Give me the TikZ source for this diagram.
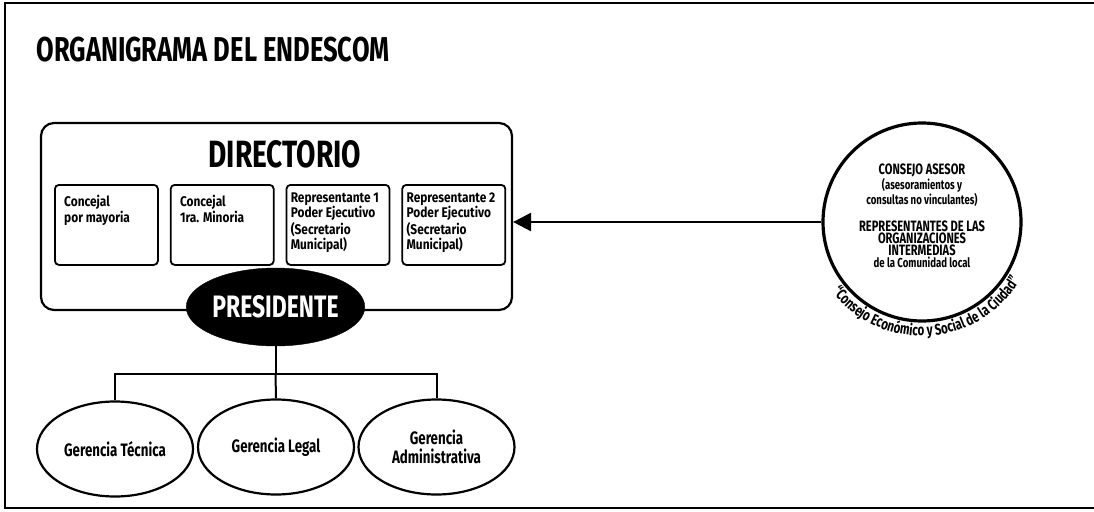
\documentclass[tikz,border=0pt]{standalone}
\usepackage{fontspec}
\setmainfont{Fira Sans}
\newfontfamily\cond{Fira Sans}[FakeStretch=0.74]
\newfontfamily\semicond{Fira Sans}[FakeStretch=0.85]
\usepackage{tikz}
\usetikzlibrary{positioning,arrows.meta,shapes.geometric,decorations.text}

\begin{document}
\begin{tikzpicture}[
  x=1pt, y=1pt,
  font=\cond\bfseries,
  node distance=11pt,
  member/.style={
    rectangle, rounded corners=4pt, draw=black, line width=1.8pt,
    minimum width=103pt, minimum height=80pt, inner sep=0pt
  },
  memtxt/.style={
    anchor=north west, align=left, inner sep=0pt,
    font=\semicond\bfseries\fontsize{14}{15}\selectfont
  },
  gerencia/.style={
    ellipse, draw=black, line width=2.2pt, align=center,
    minimum width=156pt, minimum height=95pt, inner sep=0pt,
    font=\cond\bfseries\fontsize{18}{19}\selectfont
  },
  arr/.style={-{Triangle[length=18pt,width=18pt]}, line width=2.6pt},
  tree/.style={line width=2pt}
]

\useasboundingbox (0,0) rectangle (1094,-511);
% sheet frame (open on the right)
\draw[line width=2pt] (1094,-3) -- (5,-3) -- (5,-508) -- (1094,-508);

\node[anchor=west, font=\cond\bfseries\fontsize{34.5}{35}\selectfont] (title) at (33,-50) {ORGANIGRAMA DEL ENDESCOM};

% directorio
\node[rectangle, rounded corners=13pt, draw=black, line width=2.2pt,
      minimum width=471pt, minimum height=187pt] (dir) at (276.5,-216.5) {};
\node[font=\cond\bfseries\fontsize{38}{38}\selectfont] (dirlbl) at (285,-154) {DIRECTORIO};

\node[member, anchor=north west] (m1) at (54,-184) {};
\node[member, right=of m1] (m2) {};
\node[member, right=of m2] (m3) {};
\node[member, right=of m3] (m4) {};

\node[memtxt, font=\semicond\bfseries\fontsize{14}{16}\selectfont] (t1) at ([shift={(10pt,-11pt)}]m1.north west) {Concejal\\por mayoria};
\node[memtxt, font=\semicond\bfseries\fontsize{14}{16}\selectfont] (t2) at ([shift={(10pt,-11pt)}]m2.north west) {Concejal\\1ra. Minoria};
\node[memtxt] (t3) at ([shift={(5pt,-9pt)}]m3.north west) {Representante 1\\Poder Ejecutivo\\(Secretario\\Municipal)};
\node[memtxt] (t4) at ([shift={(5pt,-9pt)}]m4.north west) {Representante 2\\Poder Ejecutivo\\(Secretario\\Municipal)};

\node[ellipse, fill=black, draw=black, minimum width=165pt, minimum height=78pt,
      inner sep=0pt, text=white, font=\cond\bfseries\fontsize{31}{31}\selectfont] (pres) at (275.5,-307) {PRESIDENTE};

% gerencias
\node[gerencia] (g1) at (115,-449) {Gerencia Técnica};
\node[gerencia] (g2) at (276,-447) {Gerencia Legal};
\node[gerencia] (g3) at (436.5,-447) {Gerencia\\Administrativa};

\draw[tree] (pres.south) -- ++(0,-28) coordinate (split);
\draw[tree] (g1.north) |- (split) -| (g3.north);
\draw[tree] (split) -- (g2.north);

% consejo
\node[circle, draw=black, line width=3.2pt, minimum size=198pt] (cons) at (922,-222) {};
\node[align=center, inner sep=0pt] (constxt) at ([yshift=6pt]cons.center)
  {{\fontsize{15}{13.5}\selectfont CONSEJO ASESOR}\\
   {\fontsize{13}{13.5}\selectfont (asesoramientos y}\\
   {\fontsize{13}{13.5}\selectfont consultas no vinculantes)}\\[14pt]
   {\fontsize{15}{13.5}\selectfont REPRESENTANTES DE LAS}\\
   {\fontsize{15}{13.5}\selectfont ORGANIZACIONES}\\
   {\fontsize{15}{13.5}\selectfont INTERMEDIAS}\\
   {\fontsize{13}{13.5}\selectfont de la Comunidad local}};
\path[decorate, decoration={text along path, text align=center,
      text={|\cond\bfseries\fontsize{15.5}{15.5}\selectfont|“Consejo Económico y Social de la Ciudad”}}]
  (cons.center) ++(205:114) arc[start angle=205, end angle=342, radius=114];

\draw[arr] (cons.west) -- (cons.west -| dir.east);

\end{tikzpicture}
\end{document}
